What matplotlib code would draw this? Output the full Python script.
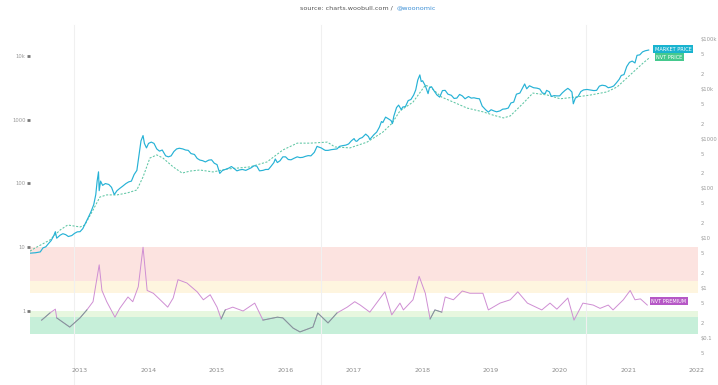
import matplotlib.pyplot as plt
import numpy as np
from matplotlib.ticker import FixedLocator, FixedFormatter, NullLocator

# --- data (decimal years) ---
price_t = [2012.27, 2012.35, 2012.42, 2012.46, 2012.50, 2012.54, 2012.58, 2012.62, 2012.64, 2012.66,
           2012.71, 2012.75, 2012.79, 2012.83, 2012.88, 2012.92, 2012.96, 2013.00, 2013.04, 2013.08,
           2013.12, 2013.16, 2013.20, 2013.23, 2013.25, 2013.27, 2013.28, 2013.30, 2013.33, 2013.37,
           2013.42, 2013.46, 2013.50, 2013.54, 2013.58, 2013.62, 2013.67, 2013.71, 2013.75, 2013.79,
           2013.83, 2013.86, 2013.89, 2013.92, 2013.94, 2013.97, 2014.00, 2014.04, 2014.08, 2014.12,
           2014.16, 2014.20, 2014.25, 2014.29, 2014.33, 2014.37, 2014.41, 2014.45, 2014.50, 2014.54,
           2014.58, 2014.62, 2014.67, 2014.71, 2014.75, 2014.79, 2014.83, 2014.88, 2014.92, 2014.96,
           2015.00, 2015.04, 2015.08, 2015.12, 2015.17, 2015.21, 2015.25, 2015.29, 2015.33, 2015.37,
           2015.42, 2015.46, 2015.50, 2015.54, 2015.58, 2015.62, 2015.67, 2015.71, 2015.75, 2015.79,
           2015.83, 2015.85, 2015.88, 2015.92, 2015.96, 2016.00, 2016.04, 2016.08, 2016.12, 2016.17,
           2016.21, 2016.25, 2016.29, 2016.33, 2016.37, 2016.42, 2016.46, 2016.48, 2016.52, 2016.56,
           2016.58, 2016.62, 2016.67, 2016.71, 2016.75, 2016.79, 2016.83, 2016.88, 2016.92, 2016.96,
           2017.00, 2017.02, 2017.04, 2017.08, 2017.12, 2017.17, 2017.21, 2017.23, 2017.29, 2017.33,
           2017.37, 2017.40, 2017.42, 2017.46, 2017.50, 2017.54, 2017.56, 2017.58, 2017.62, 2017.65,
           2017.69, 2017.71, 2017.75, 2017.79, 2017.83, 2017.87, 2017.90, 2017.93, 2017.96, 2017.98,
           2018.00, 2018.04, 2018.08, 2018.10, 2018.13, 2018.17, 2018.21, 2018.25, 2018.29, 2018.33,
           2018.37, 2018.42, 2018.46, 2018.50, 2018.54, 2018.58, 2018.62, 2018.67, 2018.71, 2018.75,
           2018.79, 2018.83, 2018.87, 2018.92, 2018.96, 2019.00, 2019.04, 2019.08, 2019.13, 2019.17,
           2019.21, 2019.25, 2019.29, 2019.33, 2019.37, 2019.42, 2019.46, 2019.49, 2019.52, 2019.56,
           2019.62, 2019.67, 2019.71, 2019.75, 2019.79, 2019.81, 2019.85, 2019.88, 2019.92, 2019.96,
           2020.00, 2020.04, 2020.08, 2020.12, 2020.15, 2020.18, 2020.20, 2020.23, 2020.27, 2020.31,
           2020.35, 2020.40, 2020.46, 2020.50, 2020.54, 2020.58, 2020.62, 2020.67, 2020.71, 2020.75,
           2020.79, 2020.83, 2020.87, 2020.90, 2020.94, 2020.98, 2021.02, 2021.06, 2021.10, 2021.13,
           2021.17, 2021.21, 2021.25, 2021.30]
price_v = [5.0, 5.1, 5.3, 6.4, 6.7, 7.8, 9.0, 11.5, 13.5, 10.0,
           11.5, 12.3, 11.8, 10.8, 11.3, 12.5, 13.4, 13.5, 15.5, 20,
           26, 34, 47, 75, 140, 215, 90, 140, 115, 125,
           120, 105, 75, 90, 100, 110, 125, 135, 140, 190,
           230, 450, 900, 1150, 800, 650, 800, 850, 800, 620,
           560, 590, 450, 430, 450, 550, 620, 640, 620, 590,
           580, 500, 480, 400, 370, 360, 340, 370, 375, 320,
           300, 200, 230, 240, 255, 275, 250, 225, 235, 240,
           230, 245, 260, 285, 280, 225, 230, 240, 240, 280,
           330, 390, 330, 360, 430, 430, 380, 375, 400, 430,
           415, 420, 440, 455, 450, 530, 700, 680, 650, 600,
           580, 580, 600, 610, 620, 700, 720, 740, 780, 900,
           1000, 900, 880, 1000, 1050, 1230, 1100, 960, 1200, 1350,
           1700, 2200, 2100, 2700, 2500, 2300, 2000, 2800, 4200, 4700,
           3800, 4300, 4400, 5800, 6100, 7500, 9500, 15000, 19000, 14000,
           14500, 11500, 8000, 10500, 11000, 9000, 7500, 6800, 9200, 9300,
           7800, 7400, 6400, 6500, 7700, 7200, 6300, 7000, 6500, 6600,
           6400, 6300, 4500, 3800, 3400, 3800, 3600, 3450, 3600, 3900,
           3950, 4100, 5200, 5400, 7800, 8200, 10500, 12500, 10000, 11500,
           10500, 10300, 9900, 8200, 8000, 9300, 8700, 7000, 7300, 7200,
           7200, 8300, 9300, 10200, 9500, 8600, 5000, 6500, 7000, 8800,
           9500, 9700, 9400, 9200, 9300, 11300, 11800, 11500, 10500, 10800,
           11400, 13200, 15500, 18500, 19300, 28000, 34000, 36000, 33000, 47000,
           48000, 55000, 58000, 60000]

nvt_t = [2012.27, 2012.34, 2012.56, 2012.71, 2012.82, 2013.00, 2013.07, 2013.19, 2013.29, 2013.39,
         2013.54, 2013.69, 2013.83, 2013.92, 2014.02, 2014.12, 2014.21, 2014.36, 2014.49, 2014.61,
         2014.75, 2014.94, 2015.15, 2015.48, 2015.73, 2015.96, 2016.17, 2016.36, 2016.61, 2016.72,
         2016.94, 2017.19, 2017.42, 2017.55, 2017.67, 2017.86, 2018.04, 2018.11, 2018.28, 2018.45,
         2018.65, 2018.88, 2019.03, 2019.18, 2019.28, 2019.47, 2019.61, 2019.82, 2020.01, 2020.26,
         2020.45, 2020.69, 2020.84, 2021.03, 2021.22, 2021.32]
nvt_v = [5.5, 6.3, 9.2, 14.6, 18.4, 16.8, 18.4, 36.8, 67, 74,
         74, 81, 93, 170, 407, 470, 407, 270, 203, 223,
         234, 214, 245, 270, 340, 590, 810, 810, 850, 680,
         650, 850, 1350, 2000, 3600, 5400, 11800, 10900, 6800, 5400,
         4100, 3450, 2960, 2600, 2850, 5150, 8200, 7500, 6300, 6900,
         7500, 8650, 10900, 19000, 33000, 43000]

prem_t = [2012.44, 2012.49, 2012.56, 2012.64, 2012.66, 2012.85, 2013.00, 2013.10, 2013.19, 2013.28,
          2013.32, 2013.39, 2013.51, 2013.58, 2013.70, 2013.77, 2013.85, 2013.92, 2013.98, 2014.07,
          2014.17, 2014.28, 2014.36, 2014.43, 2014.56, 2014.71, 2014.80, 2014.90, 2015.00, 2015.06,
          2015.12, 2015.23, 2015.38, 2015.55, 2015.67, 2015.88, 2015.96, 2016.11, 2016.21, 2016.40,
          2016.47, 2016.62, 2016.75, 2016.90, 2017.01, 2017.09, 2017.23, 2017.45, 2017.55, 2017.67,
          2017.72, 2017.86, 2017.95, 2018.04, 2018.11, 2018.18, 2018.28, 2018.33, 2018.45, 2018.58,
          2018.69, 2018.88, 2018.96, 2019.13, 2019.28, 2019.39, 2019.53, 2019.74, 2019.86, 2019.96,
          2020.12, 2020.21, 2020.34, 2020.49, 2020.59, 2020.71, 2020.78, 2020.93, 2021.03, 2021.10,
          2021.18, 2021.28]
prem_v = [0.72, 0.80, 0.93, 1.07, 0.78, 0.56, 0.78, 1.04, 1.4, 5.3,
          2.1, 1.4, 0.8, 1.1, 1.66, 1.4, 2.4, 10.0, 2.1, 1.9,
          1.5, 1.15, 1.6, 3.1, 2.75, 2.0, 1.5, 1.8, 1.15, 0.75,
          1.04, 1.15, 1.0, 1.33, 0.72, 0.8, 0.78, 0.54, 0.47, 0.56,
          0.93, 0.65, 0.93, 1.15, 1.4, 1.24, 0.96, 2.0, 0.87, 1.33,
          1.04, 1.5, 3.5, 1.9, 0.75, 1.04, 0.96, 1.66, 1.5, 2.06,
          1.9, 1.9, 1.04, 1.33, 1.5, 2.0, 1.33, 1.04, 1.33, 1.07,
          1.6, 0.72, 1.33, 1.24, 1.1, 1.24, 1.04, 1.5, 2.1, 1.5,
          1.55, 1.24]

halvings = [2012.91, 2016.52, 2020.38]
years = list(range(2013, 2023))

# premium zones (low, high, colour)
zones = [(3, 10, '#fce3e0'), (1.9, 3, '#fef5df'), (0.8, 1, '#e7f7df'), (0.44, 0.8, '#c6efd9')]

left_ticks = [1, 10, 100, 1000, 10000]
left_labels = ['1', '10', '100', '1000', '10k']
right_ticks = [0.1, 1, 10, 100, 1000, 1e4, 1e5]
right_labels = ['$0.1', '$1', '$10', '$100', '$1000', '$10k', '$100k']

W, H = 718, 385
fig = plt.figure(figsize=(W / 100, H / 100), dpi=100)
ax = fig.add_axes([30 / W, (H - 358) / H, 668 / W, 333 / H])
ax2 = ax.twinx()

for lo, hi, c in zones:
    ax.axhspan(lo, hi, color=c, lw=0, zorder=0)

for h in halvings:
    ax.axvline(h, ymin=-0.081, ymax=1, color='#f0f0f0', lw=0.8, clip_on=False, zorder=0.5)

# premium line, darker where below 1
pv = np.array(prem_v)
ax.plot(prem_t, pv, color='#cf8ed3', lw=0.7, zorder=2)
low = np.where(pv <= 1.05, pv, np.nan)
ax.plot(prem_t, low, color='#7c9d95', lw=0.7, zorder=2.1)

ax2.plot(nvt_t, nvt_v, color='#5ec6a4', lw=0.75, ls=(0, (2, 1.5)), zorder=2)
ax2.plot(price_t, price_v, color='#26b2d6', lw=0.85, zorder=3)

ax.set_yscale('log')
ax2.set_yscale('log')
ax.set_ylim(10 ** -0.737, 10 ** 4.486)
ax2.set_ylim(10 ** -1.406, 10 ** 5.281)
ax.set_xlim(2012.27, 2022.02)

for a in (ax, ax2):
    for s in a.spines.values():
        s.set_visible(False)

ax.set_xticks(years)
ax.set_xticklabels([str(y) for y in years])
ax.tick_params(axis='x', length=0, labelsize=4.6, labelcolor='#8a8a8a', pad=7)

ax.yaxis.set_major_locator(FixedLocator(left_ticks))
ax.yaxis.set_major_formatter(FixedFormatter(left_labels))
ax.yaxis.set_minor_locator(NullLocator())
ax.tick_params(axis='y', which='major', length=2.2, width=2, color='#777777',
               labelsize=3.8, labelcolor='#9a9a9a', pad=1)

minor_vals = [m * 10.0 ** e for e in range(-2, 5) for m in (2, 5)]
minor_vals = [v for v in minor_vals if 0.04 < v < 1.9e5]
ax2.yaxis.set_major_locator(FixedLocator(right_ticks))
ax2.yaxis.set_major_formatter(FixedFormatter(right_labels))
ax2.yaxis.set_minor_locator(FixedLocator(minor_vals))
ax2.yaxis.set_minor_formatter(FixedFormatter([str(int(round(v / 10 ** np.floor(np.log10(v))))) for v in minor_vals]))
ax2.tick_params(axis='y', which='both', length=0, labelsize=3.8, labelcolor='#9a9a9a', pad=2)

# end labels
box = dict(boxstyle='square,pad=0.25', ec='none')
ax2.annotate('MARKET PRICE', xy=(price_t[-1], price_v[-1]), xytext=(6, 1), textcoords='offset pixels',
             fontsize=3.6, color='white', va='center', bbox=dict(box, fc='#19b3cf'), zorder=5)
ax2.annotate('NVT PRICE', xy=(nvt_t[-1], nvt_v[-1]), xytext=(6, 0), textcoords='offset pixels',
             fontsize=3.6, color='white', va='center', bbox=dict(box, fc='#45c98e'), zorder=5)
ax.annotate('NVT PREMIUM', xy=(prem_t[-1], prem_v[-1]), xytext=(4, 4), textcoords='offset pixels',
            fontsize=3.6, color='white', va='center', bbox=dict(box, fc='#b658c6'), zorder=5)

fig.text(393 / W, 1 - 8 / H, 'source: charts.woobull.com /', ha='right', va='center',
         fontsize=4.6, color='#555555')
fig.text(397 / W, 1 - 8 / H, '@woonomic', ha='left', va='center', fontsize=4.6, color='#3b8fd6')

fig.savefig('out.png', dpi=100)
